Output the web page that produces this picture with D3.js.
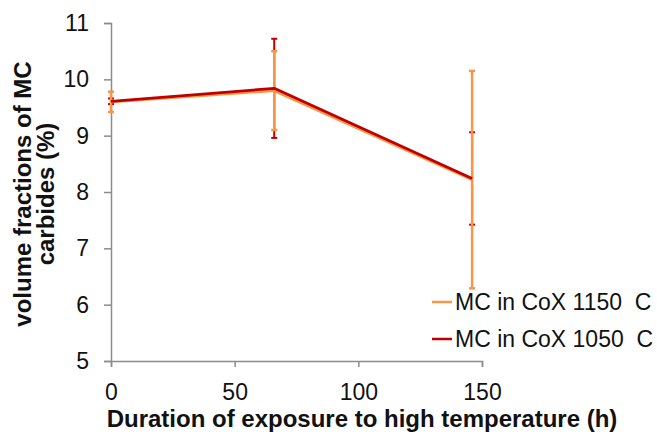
<!DOCTYPE html>
<html><head><meta charset="utf-8">
<script src="https://cdn.jsdelivr.net/npm/d3@7"></script>
<style>
html,body{margin:0;padding:0;background:#fff;}
svg{display:block;font-family:"Liberation Sans",Arial,sans-serif;}
</style></head>
<body><svg id="c" width="657" height="437"></svg>
<script>
const hours = [0, 66, 146];
const series1150 = [9.60, 9.80, 8.22];
const err1150 = [0.18, 0.70, 1.93];
const series1050 = [9.61, 9.84, 8.24];
const err1050 = [0.05, 0.88, 0.82];
const seriesNames = ["MC in CoX 1150  C", "MC in CoX 1050  C"];
const seriesColors = ["#F79646", "#C00000"];
const yTicks = [5, 6, 7, 8, 9, 10, 11];
const xTicks = [0, 50, 100, 150];
const xTitle = "Duration of exposure to high temperature (h)";
const yTitleLines = ["volume fractions of MC", "carbides (%)"];

const svg = d3.select("#c");
const x = d3.scaleLinear().domain([0, 150]).range([111, 482]);
const y = d3.scaleLinear().domain([5, 11]).range([361, 23]);
const axisColor = "#8c8c8c";

// axes
const ya = svg.append("g").attr("transform", "translate(111,0)")
  .call(d3.axisLeft(y).tickValues(yTicks).tickSize(7).tickPadding(15).tickFormat(d3.format("d")));
const xa = svg.append("g").attr("transform", "translate(0,361)")
  .call(d3.axisBottom(x).tickValues(xTicks).tickSize(6).tickPadding(17).tickFormat(d3.format("d")));
[ya, xa].forEach(g => {
  g.selectAll("path,line").attr("stroke", axisColor).attr("stroke-width", 1.5);
  g.selectAll("text").attr("fill", "#111").style("font-size", "23px").style("font-family", "'Liberation Sans',Arial,sans-serif");
});

const datasets = [
  {vals: series1150, err: err1150, color: seriesColors[0]},
  {vals: series1050, err: err1050, color: seriesColors[1]}
];

// error bars: red first, then orange on top
[datasets[1], datasets[0]].forEach(ds => {
  const g = svg.append("g").attr("stroke", ds.color).attr("stroke-width", ds === datasets[0] ? 2.5 : 2);
  hours.forEach((h, i) => {
    const cx = x(h), top = y(ds.vals[i] + ds.err[i]), bot = y(ds.vals[i] - ds.err[i]);
    g.append("line").attr("x1", cx).attr("x2", cx).attr("y1", top).attr("y2", bot);
    g.append("line").attr("x1", cx - 3).attr("x2", cx + 3).attr("y1", top).attr("y2", top);
    g.append("line").attr("x1", cx - 3).attr("x2", cx + 3).attr("y1", bot).attr("y2", bot);
  });
});

// lines
const line = d3.line().x((d, i) => x(hours[i])).y(d => y(d));
datasets.forEach(ds => {
  svg.append("path").datum(ds.vals).attr("d", line)
    .attr("fill", "none").attr("stroke", ds.color).attr("stroke-width", 2.8).attr("stroke-linejoin", "round");
});

// legend
seriesNames.forEach((name, i) => {
  const cy = 302 + i * 37;
  svg.append("line").attr("x1", 432).attr("x2", 452).attr("y1", cy).attr("y2", cy)
    .attr("stroke", seriesColors[i]).attr("stroke-width", 2.5);
  svg.append("text").attr("x", 455).attr("y", cy + 8).attr("xml:space", "preserve")
    .style("white-space", "pre").style("font-size", "23px").attr("fill", "#111").text(name);
});

// titles
svg.append("text").attr("x", 362).attr("y", 427).attr("text-anchor", "middle")
  .style("font-size", "24px").style("font-weight", "bold").attr("fill", "#111").text(xTitle);
yTitleLines.forEach((t, i) => {
  svg.append("text").attr("transform", `translate(${31 + i * 23},194) rotate(-90)`)
    .attr("text-anchor", "middle").style("font-size", "24px").style("font-weight", "bold")
    .attr("fill", "#111").text(t);
});
</script></body></html>
